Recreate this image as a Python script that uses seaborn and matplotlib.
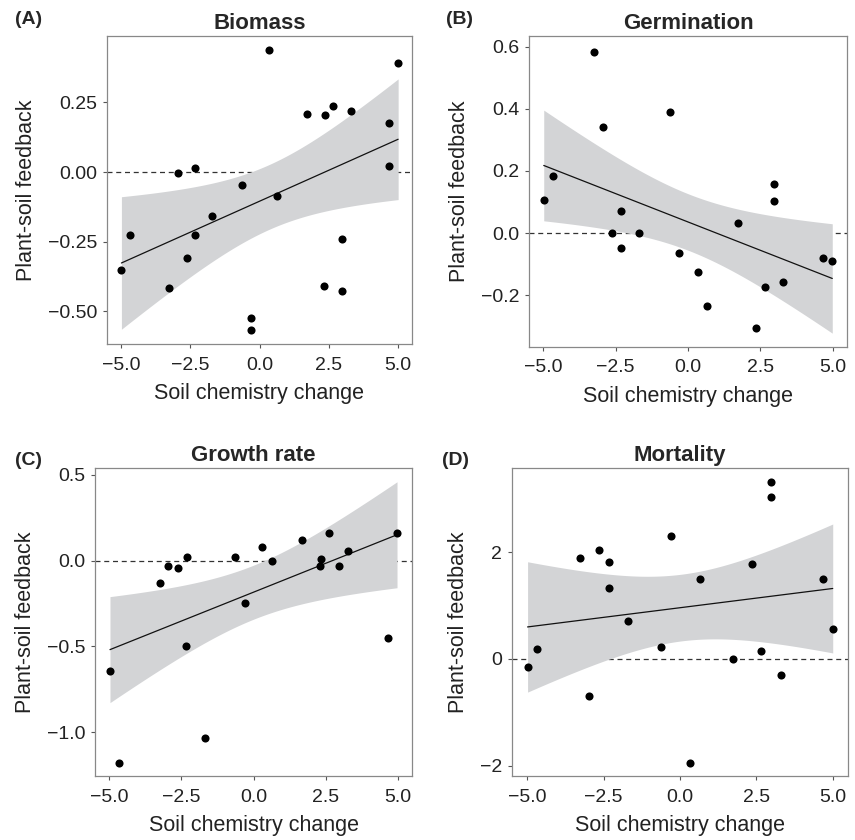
import math
import numpy as np
import pandas as pd
import seaborn as sns
import matplotlib.pyplot as plt

# Panel data (soil chemistry change, plant-soil feedback)
biomass_x = [0.33, 5.0, 1.73, 2.37, 2.64, 3.29, 4.68, 4.68, -2.95, -2.32, -0.63, 0.64,
             -1.71, -4.66, -2.34, -2.63, -4.98, -3.26, 2.33, 2.96, 2.96, -0.31, -0.31]
biomass_y = [0.438, 0.392, 0.207, 0.205, 0.238, 0.219, 0.176, 0.023, -0.002, 0.013, -0.048, -0.085,
             -0.158, -0.227, -0.226, -0.307, -0.352, -0.417, -0.409, -0.240, -0.427, -0.522, -0.568]

germ_x = [-3.26, -2.95, -0.63, -4.67, -4.99, -2.33, -2.62, -1.70, -2.31, -0.32,
          0.33, 0.64, 1.72, 2.35, 2.65, 2.97, 2.97, 3.29, 4.67, 4.99]
germ_y = [0.582, 0.340, 0.390, 0.185, 0.107, 0.070, 0.0, 0.0, -0.047, -0.063,
          -0.125, -0.233, 0.034, -0.306, -0.174, 0.158, 0.102, -0.158, -0.080, -0.090]

growth_x = [-4.98, -4.67, -3.26, -2.95, -2.63, -2.31, -2.33, -1.70, -0.63, -0.31,
            0.31, 0.63, 1.70, 2.33, 2.32, 2.63, 2.95, 3.28, 4.66, 4.98]
growth_y = [-0.642, -1.181, -0.132, -0.029, -0.045, 0.018, -0.496, -1.035, 0.023, -0.245,
            0.078, 0.0, 0.121, 0.010, -0.029, 0.160, -0.029, 0.056, -0.449, 0.160]

mort_x = [-4.99, -4.67, -3.28, -2.97, -2.65, -2.34, -2.32, -1.71, -0.63, -0.30,
          0.32, 0.65, 1.73, 2.37, 2.66, 2.99, 2.99, 3.31, 4.69, 5.0]
mort_y = [-0.156, 0.181, 1.888, -0.694, 2.038, 1.819, 1.338, 0.719, 0.225, 2.306,
          -1.944, 1.5, 0.0, 1.781, 0.156, 3.31, 3.025, -0.3, 1.506, 0.556]

panels = [
    ("(A)", "Biomass", biomass_x, biomass_y, (-0.617, 0.488), [-0.5, -0.25, 0, 0.25], "{:.2f}"),
    ("(B)", "Germination", germ_x, germ_y, (-0.366, 0.634), [-0.2, 0, 0.2, 0.4, 0.6], "{:.1f}"),
    ("(C)", "Growth rate", growth_x, growth_y, (-1.255, 0.539), [-1.0, -0.5, 0, 0.5], "{:.1f}"),
    ("(D)", "Mortality", mort_x, mort_y, (-2.19, 3.575), [-2, 0, 2], "{:.0f}"),
]

# axes boxes in pixels: left, right, top, bottom ; tag position
boxes = [(107, 412, 36, 344), (529, 847, 36, 347), (95, 412, 468, 776), (512, 848, 468, 776)]
tag_pos = [(15, 20), (446, 20), (15, 460), (442, 460)]


def t_quantile(p, df):
    # inverse Student t CDF (no scipy here)
    c = math.gamma((df + 1) / 2) / (math.sqrt(df * math.pi) * math.gamma(df / 2))
    grid = np.linspace(0, 10, 20001)
    pdf = c * (1 + grid ** 2 / df) ** (-(df + 1) / 2)
    cdf = 0.5 + np.concatenate([[0], np.cumsum((pdf[1:] + pdf[:-1]) / 2 * np.diff(grid))])
    return float(np.interp(p, cdf, grid))


# 95% confidence band of a linear fit, like geom_smooth(method="lm")
def lm_band(xs, ys, grid):
    x = np.asarray(xs)
    y = np.asarray(ys)
    n = len(x)
    b, a = np.polyfit(x, y, 1)
    resid = y - (a + b * x)
    s = np.sqrt(np.sum(resid ** 2) / (n - 2))
    sxx = np.sum((x - x.mean()) ** 2)
    se = s * np.sqrt(1 / n + (grid - x.mean()) ** 2 / sxx)
    tq = t_quantile(0.975, n - 2)
    fit = a + b * grid
    return fit - tq * se, fit + tq * se


sns.set_style("white")
plt.rcParams['font.family'] = ['Liberation Sans', 'DejaVu Sans']

W, H = 855, 840
fig = plt.figure(figsize=(W / 100, H / 100), dpi=100)

for (tag, title, xs, ys, ylim, yticks, fmt), (l, r, t, b), (tx, ty) in zip(panels, boxes, tag_pos):
    ax = fig.add_axes([l / W, 1 - b / H, (r - l) / W, (b - t) / H])
    df = pd.DataFrame({"x": xs, "y": ys})
    ax.axhline(0, color="#333333", lw=0.9, ls=(0, (4, 3)), zorder=1)

    grid = np.linspace(min(xs), max(xs), 100)
    lo, hi = lm_band(xs, ys, grid)
    ax.fill_between(grid, lo, hi, color="#d3d4d6", lw=0, zorder=2)

    sns.regplot(data=df, x="x", y="y", ax=ax, color="black", ci=None,
                scatter_kws=dict(s=34, zorder=4, linewidths=0, alpha=1),
                line_kws=dict(lw=0.9, zorder=3, color="#111111"))

    ax.set_xlim(-5.5, 5.5)
    ax.set_ylim(*ylim)
    ax.set_xticks([-5, -2.5, 0, 2.5, 5])
    ax.set_xticklabels(["\u22125.0", "\u22122.5", "0.0", "2.5", "5.0"])
    ax.set_yticks(yticks)
    ax.set_yticklabels([fmt.format(v).replace("-", "\u2212") if v != 0 else fmt.format(0.0) for v in yticks])
    ax.tick_params(axis="both", labelsize=14, length=3, width=0.8, color="#555555", pad=4,
                   left=True, bottom=True, labelcolor="#222222")
    ax.tick_params(axis="x", pad=6)
    for sp in ax.spines.values():
        sp.set_color("#888888")
        sp.set_linewidth(0.9)
    ax.set_xlabel("Soil chemistry change", fontsize=15.5, color="#222222", labelpad=7)
    ax.set_ylabel("Plant-soil feedback", fontsize=15.5, color="#222222", labelpad=8)
    ax.set_title(title, fontsize=16, fontweight="bold", pad=5)
    fig.text(tx / W, 1 - ty / H, tag, fontsize=14, fontweight="bold", ha="left", va="center")

fig.savefig("out.png", dpi=100)
